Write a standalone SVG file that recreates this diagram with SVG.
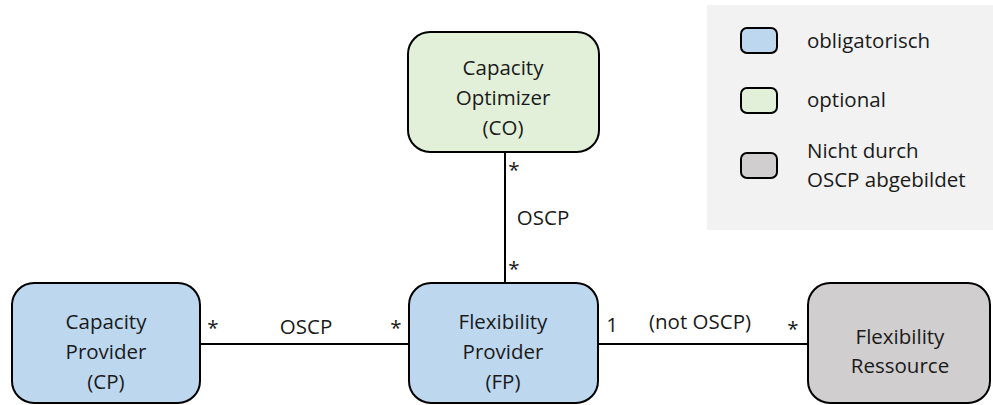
<svg xmlns="http://www.w3.org/2000/svg" width="993" height="405" viewBox="0 0 993 405">
  <style>
    text { font-family: "Open Sans", "Liberation Sans", sans-serif; font-size: 20.5px; fill: #1a1a1a; }
    .c { text-anchor: middle; }
    .box { stroke: #000; stroke-width: 2; }
    .must { fill: #BDD7EE; }
    .opt { fill: #E2F0D9; }
    .ext { fill: #D0CECE; }
    .wire { stroke: #000; stroke-width: 2; fill: none; }
  </style>

  <!-- legend -->
  <g id="legend">
    <rect x="707" y="5" width="286" height="225" fill="#F2F2F2"/>
    <rect class="box must" x="741" y="28" width="36" height="25" rx="6"/>
    <text x="807" y="48">obligatorisch</text>
    <rect class="box opt" x="741" y="88" width="36" height="25" rx="6"/>
    <text x="807" y="107">optional</text>
    <rect class="box ext" x="741" y="153" width="36" height="25" rx="6"/>
    <text x="807" y="158">Nicht durch</text>
    <text x="807" y="187">OSCP abgebildet</text>
  </g>

  <!-- connectors -->
  <g id="connectors">
    <line class="wire" x1="505" y1="152" x2="505" y2="284"/>
    <line class="wire" x1="200" y1="344" x2="409" y2="344"/>
    <line class="wire" x1="598" y1="344" x2="808" y2="344"/>
    <text class="c" x="514" y="177">*</text>
    <text class="c" x="543" y="225">OSCP</text>
    <text class="c" x="514" y="276">*</text>
    <text class="c" x="213" y="335">*</text>
    <text class="c" x="306" y="334">OSCP</text>
    <text class="c" x="396" y="335">*</text>
    <text class="c" x="612" y="332">1</text>
    <text class="c" x="700" y="329">(not OSCP)</text>
    <text class="c" x="793" y="336">*</text>
  </g>

  <g id="co">
    <rect class="box opt" x="408" y="32" width="191" height="120" rx="22"/>
    <text class="c" x="503" y="75">Capacity</text>
    <text class="c" x="503" y="105">Optimizer</text>
    <text class="c" x="503" y="135">(CO)</text>
  </g>

  <g id="cp">
    <rect class="box must" x="12" y="283" width="188" height="120" rx="22"/>
    <text class="c" x="106" y="329">Capacity</text>
    <text class="c" x="106" y="359">Provider</text>
    <text class="c" x="106" y="389">(CP)</text>
  </g>

  <g id="fp">
    <rect class="box must" x="409" y="283" width="189" height="120" rx="22"/>
    <text class="c" x="503" y="329">Flexibility</text>
    <text class="c" x="503" y="359">Provider</text>
    <text class="c" x="503" y="389">(FP)</text>
  </g>

  <g id="fr">
    <rect class="box ext" x="808" y="283" width="182" height="120" rx="22"/>
    <text class="c" x="900" y="344">Flexibility</text>
    <text class="c" x="900" y="373">Ressource</text>
  </g>
</svg>
